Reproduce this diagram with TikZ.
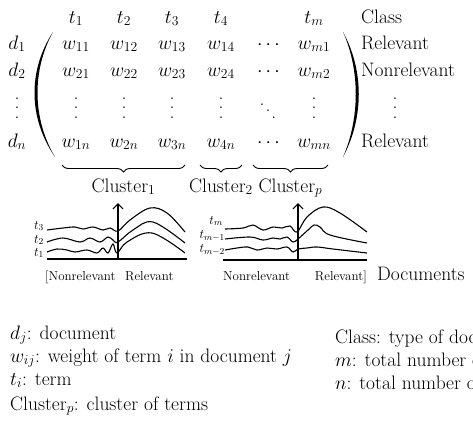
\RequirePackage{fix-cm}
\documentclass[tikz,border=0pt]{standalone}
\usepackage{amsmath}
\usetikzlibrary{arrows.meta,decorations.pathreplacing}

% dots that grow with the font
\newcommand\tallvdots{\vbox{\baselineskip=9.5pt\lineskiplimit=0pt\hbox{.}\hbox{.}\hbox{.}}}
\newcommand\tallddots{\mbox{\raisebox{13pt}{.}\kern1pt\raisebox{6.5pt}{.}\kern1pt.}}

\begin{document}
\begin{tikzpicture}[x=1pt,y=-1pt,
  every node/.style={font=\fontsize{19.5}{23}\selectfont,inner sep=0pt},
  lbl/.style={anchor=base},
  lblw/.style={anchor=base west},
  tiny/.style={font=\fontsize{13}{15}\selectfont},
  curve/.style={line width=1.1pt},
  axis/.style={line width=1.2pt},
  clbrace/.style={decorate,decoration={brace,mirror,amplitude=7pt},line width=0.9pt}]
  \useasboundingbox (0,0) rectangle (473,432);

  % the matrix
  \foreach \c/\x in {1/76,2/124,3/172,4/221}{
    \node[lbl] (t\c) at (\x,23) {$t_{\c}$};
    \node[lbl] (wa\c) at (\x,49) {$w_{1\c}$};
    \node[lbl] (wb\c) at (\x,76) {$w_{2\c}$};
    \node[lbl] (wv\c) at (\x,118) {\tallvdots};
    \node[lbl] (wn\c) at (\x,147) {$w_{\c n}$};
  }
  \node[lbl] (tm) at (314,23) {$t_m$};
  \foreach \r/\y in {a/49,b/76,n/147}
    \node[lbl] (c\r) at (270,\y) {$\cdots$};
  \node[lbl] (cd) at (268,118) {\tallddots};
  \node[lbl] (wam) at (314,49) {$w_{m1}$};
  \node[lbl] (wbm) at (314,76) {$w_{m2}$};
  \node[lbl] (wvm) at (314,118) {\tallvdots};
  \node[lbl] (wnm) at (314,147) {$w_{mn}$};

  % documents and their class
  \node[lbl] (d1) at (17,49) {$d_1$};
  \node[lbl] (d2) at (17,76) {$d_2$};
  \node[lbl] (dv) at (17,118) {\tallvdots};
  \node[lbl] (dn) at (17,147) {$d_n$};
  \node[lblw] (cls) at (361,23) {Class};
  \node[lblw] (rel1) at (361,49) {Relevant};
  \node[lblw] (nrel) at (361,76) {Nonrelevant};
  \node[lbl] (relv) at (395,118) {\tallvdots};
  \node[lblw] (reln) at (361,147) {Relevant};

  % parentheses
  \fill (53,32) .. controls (28,70) and (28,118) .. (55,157)
        .. controls (32,118) and (32,70) .. (53,32);
  \fill (343,32) .. controls (364,70) and (364,118) .. (343,157)
        .. controls (360,118) and (360,70) .. (343,32);

  % clusters
  \foreach \i/\a/\b in {1/62/185,2/200/242,p/253/328}{
    \draw[clbrace] (\a,165) -- (\b,165);
    \node[lbl] (cl\i) at ({(\a+\b)/2},192) {Cluster$_\i$};
  }

  % first cluster
  \draw[axis] (47,259) -- (187,259);
  \draw[axis,-{Straight Barb[length=5pt,width=10pt]}] (118,259) -- (118,203);
  \draw[curve] plot[smooth,tension=0.6] coordinates {(47,230) (63,228) (75,227) (83,229)
    (93,227) (103,230) (110,228) (118,231) (130,220) (150,208) (167,213) (185,232)};
  \draw[curve] plot[smooth,tension=0.6] coordinates {(47,242) (63,238) (80,242) (90,238)
    (100,242) (108,237) (113,240) (118,242) (133,230) (153,222) (185,243)};
  \draw[curve] plot[smooth,tension=0.6] coordinates {(47,252) (57,249) (67,250) (75,252)
    (87,250) (97,253) (103,248) (108,253) (113,244) (117,253) (127,242) (152,233) (185,253)};
  \node[tiny,anchor=east] (l3) at (44,226) {$t_3$};
  \node[tiny,anchor=east] (l2) at (44,240) {$t_2$};
  \node[tiny,anchor=east] (l1) at (44,253) {$t_1$};
  \node[tiny,lblw] (nr1) at (45,280) {[Nonrelevant};
  \node[tiny,lblw] (re1) at (125,280) {Relevant};

  % last cluster
  \draw[axis] (223,260) -- (367,260);
  \draw[axis,-{Straight Barb[length=5pt,width=10pt]}] (298,260) -- (298,203);
  \draw[curve] plot[smooth,tension=0.6] coordinates {(225,229) (243,228) (253,225) (263,230)
    (273,227) (282,228) (290,226) (297,232) (307,217) (323,207) (340,213) (367,232)};
  \draw[curve] plot[smooth,tension=0.6] coordinates {(225,239) (250,237) (263,240) (273,238)
    (280,239) (287,237) (293,242) (298,239) (308,230) (314,225) (320,227) (330,235) (367,243)};
  \draw[curve] plot[smooth,tension=0.6] coordinates {(225,250) (237,248) (248,247) (257,250)
    (267,248) (277,249) (287,247) (293,252) (298,249) (307,248) (317,247) (333,249) (367,253)};
  \node[tiny,anchor=east] (lm) at (223,221) {$t_m$};
  \node[tiny,anchor=east] (lm1) at (225,236) {$t_{m-1}$};
  \node[tiny,anchor=east] (lm2) at (225,250) {$t_{m-2}$};
  \node[tiny,lblw] (nr2) at (223,280) {Nonrelevant};
  \node[tiny,anchor=base east] (re2) at (367,280) {Relevant]};
  \node[lblw] (docs) at (377,280) {Documents};

  % legend
  \node[lblw] (k1) at (10,339) {$d_j$: document};
  \node[lblw] (k2) at (10,362) {$w_{ij}$: weight of term $i$ in document $j$};
  \node[lblw] (k3) at (10,385) {$t_i$: term};
  \node[lblw] (k4) at (10,410) {Cluster$_p$: cluster of terms};
  \node[lblw] (k5) at (335,343) {Class: type of document};
  \node[lblw] (k6) at (335,366) {$m$: total number of terms};
  \node[lblw] (k7) at (335,389) {$n$: total number of documents};
\end{tikzpicture}
\end{document}
